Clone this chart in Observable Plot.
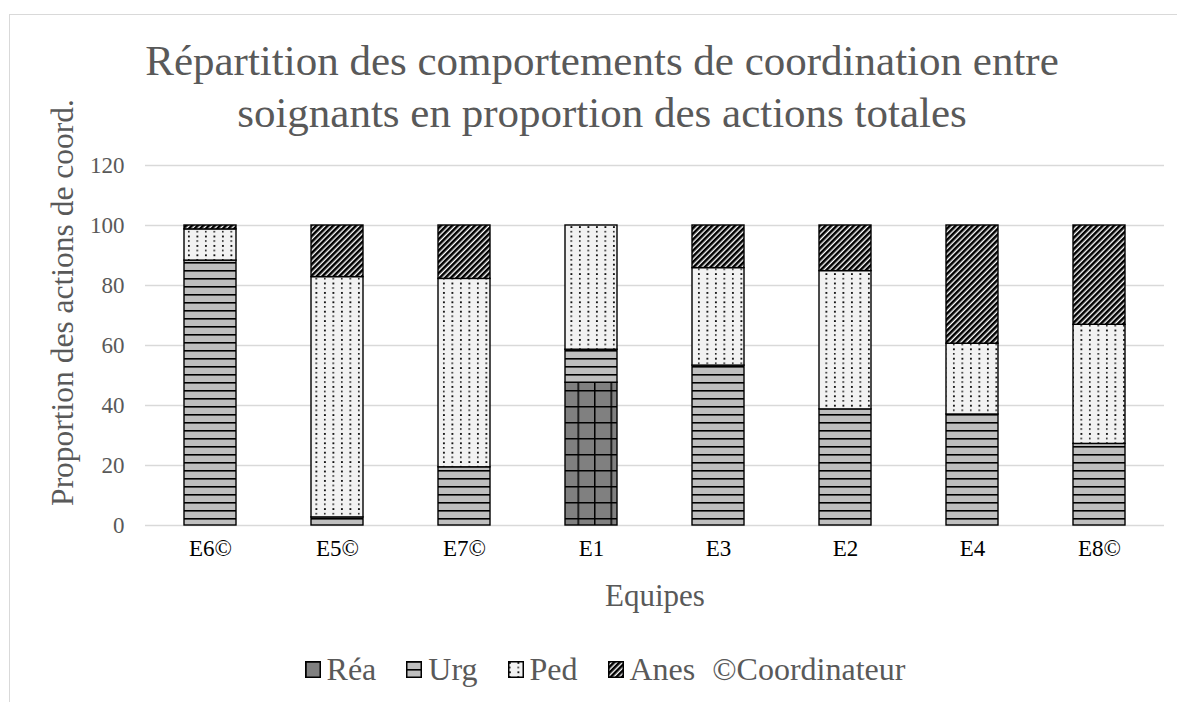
<!DOCTYPE html>
<html>
<head>
<meta charset="utf-8">
<script src="https://cdn.jsdelivr.net/npm/d3@7"></script>
<script src="https://cdn.jsdelivr.net/npm/@observablehq/plot@0.6"></script>
<style>
  html, body { margin: 0; padding: 0; background: #fff; }
  #wrap { position: relative; width: 1177px; height: 702px; overflow: hidden; font-family: "Liberation Serif", "Times New Roman", serif; }
  #frame { position: absolute; left: 9px; top: 14px; width: 1300px; height: 800px; border-left: 1.5px solid #d9d9d9; border-top: 1.5px solid #d9d9d9; }
  #title { position: absolute; left: 0; top: 35px; width: 1204px; text-align: center; font-family: "Liberation Serif", serif; font-size: 43px; line-height: 52px; color: #595959; }
  #chart { position: absolute; left: 0; top: 150px; }
  #legend { position: absolute; left: 0; top: 650px; width: 1210px; display: flex; justify-content: center; align-items: center; font-family: "Liberation Serif", serif; font-size: 32px; line-height: 38px; color: #595959; }
  .item { display: flex; align-items: center; margin-right: 30px; }
  .item svg { margin-right: 6px; }
  .item.text { margin-left: -13px; margin-right: 0; }
</style>
</head>
<body>
<div id="wrap">
  <div id="frame"></div>
  <div id="title">Répartition des comportements de coordination entre<br>soignants en proportion des actions totales</div>
  <div id="chart"></div>
  <div id="legend"></div>
</div>
<script>
const teams = ["E6©", "E5©", "E7©", "E1", "E3", "E2", "E4", "E8©"];
const series = ["Réa", "Urg", "Ped", "Anes"];
const rea  = [0,    0,    0,    47.6, 0,    0,    0,    0];
const urg  = [88.3, 2.7,  19.4, 11.0, 53.3, 38.7, 37.0, 27.2];
const ped  = [10.4, 80.1, 62.8, 41.4, 32.5, 46.1, 23.6, 39.7];
const anes = [1.3,  17.2, 17.8, 0,    14.2, 15.2, 39.4, 33.1];
const yTicks = [0, 20, 40, 60, 80, 100, 120];
const coordNote = "©Coordinateur";

const valuesBySerie = {"Réa": rea, "Urg": urg, "Ped": ped, "Anes": anes};
const patternIds = {"Réa": "p-rea", "Urg": "p-urg", "Ped": "p-ped", "Anes": "p-anes"};

const data = [];
for (const s of series) {
  teams.forEach((t, i) => {
    const v = valuesBySerie[s][i];
    if (v > 0) data.push({team: t, serie: s, value: v});
  });
}

const plot = Plot.plot({
  width: 1177,
  height: 490,
  marginLeft: 145,
  marginRight: 13,
  marginTop: 15,
  marginBottom: 115,
  style: {fontFamily: "'Liberation Serif', 'Times New Roman', serif", background: "transparent", overflow: "visible"},
  x: {domain: teams, paddingInner: 0.59, paddingOuter: 0.295, label: null},
  y: {domain: [0, 120], ticks: yTicks, label: null},
  color: {domain: series, range: series.map(s => `url(#${patternIds[s]})`)},
  marks: [
    Plot.gridY(yTicks, {stroke: "#d9d9d9", strokeOpacity: 1, strokeWidth: 1.5}),
    Plot.barY(data, {x: "team", y: "value", z: "serie", fill: "serie", order: series, stroke: "#000", strokeWidth: 1.4}),
    Plot.axisY(yTicks, {tickSize: 0, tickPadding: 21, fontSize: 23, fill: "#595959", label: null}),
    Plot.axisX({tickSize: 0, tickPadding: 14, fontSize: 23, fill: "#000", label: null}),
    Plot.text(["Equipes"], {frameAnchor: "bottom", dy: 71, lineAnchor: "middle", fontSize: 31, fill: "#595959"}),
    Plot.text(["Proportion des actions de coord."], {frameAnchor: "left", dx: -83, dy: -43, rotate: -90, lineAnchor: "middle", textAnchor: "middle", fontSize: 31.5, fill: "#595959"})
  ]
});

// pattern definitions
const defs = d3.select(plot).insert("defs", ":first-child");
// Réa: dark grey with black grid
const pr = defs.append("pattern").attr("id", "p-rea").attr("patternUnits", "userSpaceOnUse").attr("width", 16.5).attr("height", 16);
pr.append("rect").attr("width", 16.5).attr("height", 16).attr("fill", "#808080");
pr.append("rect").attr("x", 0).attr("y", 0).attr("width", 16.5).attr("height", 1.5).attr("fill", "#000");
pr.append("rect").attr("x", 0).attr("y", 0).attr("width", 1.5).attr("height", 16).attr("fill", "#000");
// Urg: light grey with horizontal black lines
const pu = defs.append("pattern").attr("id", "p-urg").attr("patternUnits", "userSpaceOnUse").attr("width", 8).attr("height", 8);
pu.append("rect").attr("width", 8).attr("height", 8).attr("fill", "#bfbfbf");
pu.append("rect").attr("x", 0).attr("y", 0).attr("width", 8).attr("height", 1.6).attr("fill", "#000");
// Ped: very light grey with small dots
const pp = defs.append("pattern").attr("id", "p-ped").attr("patternUnits", "userSpaceOnUse").attr("width", 8.5).attr("height", 9.4);
pp.append("rect").attr("width", 8.5).attr("height", 9.4).attr("fill", "#f2f2f2");
pp.append("rect").attr("x", 1).attr("y", 1).attr("width", 1.8).attr("height", 1.8).attr("fill", "#000");
pp.append("rect").attr("x", 1).attr("y", 5.7).attr("width", 1.5).attr("height", 1.5).attr("fill", "#000");
// Anes: black / white diagonal stripes
const pa = defs.append("pattern").attr("id", "p-anes").attr("patternUnits", "userSpaceOnUse").attr("width", 4).attr("height", 4).attr("patternTransform", "rotate(45)");
pa.append("rect").attr("width", 4).attr("height", 4).attr("fill", "#fff");
pa.append("rect").attr("x", 0).attr("y", 0).attr("width", 2.6).attr("height", 4).attr("fill", "#000");

document.getElementById("chart").appendChild(plot);

// legend
const legend = d3.select("#legend");
for (const s of series) {
  const it = legend.append("div").attr("class", "item");
  const sw = it.append("svg").attr("width", 16).attr("height", 17);
  sw.append("rect").attr("x", 0.75).attr("y", 0.75).attr("width", 14.5).attr("height", 15.5).attr("fill", `url(#${patternIds[s]})`).attr("stroke", "#000").attr("stroke-width", 1.5);
  it.append("span").text(s);
}
legend.append("div").attr("class", "item text").append("span").text(coordNote);
</script>
</body>
</html>
